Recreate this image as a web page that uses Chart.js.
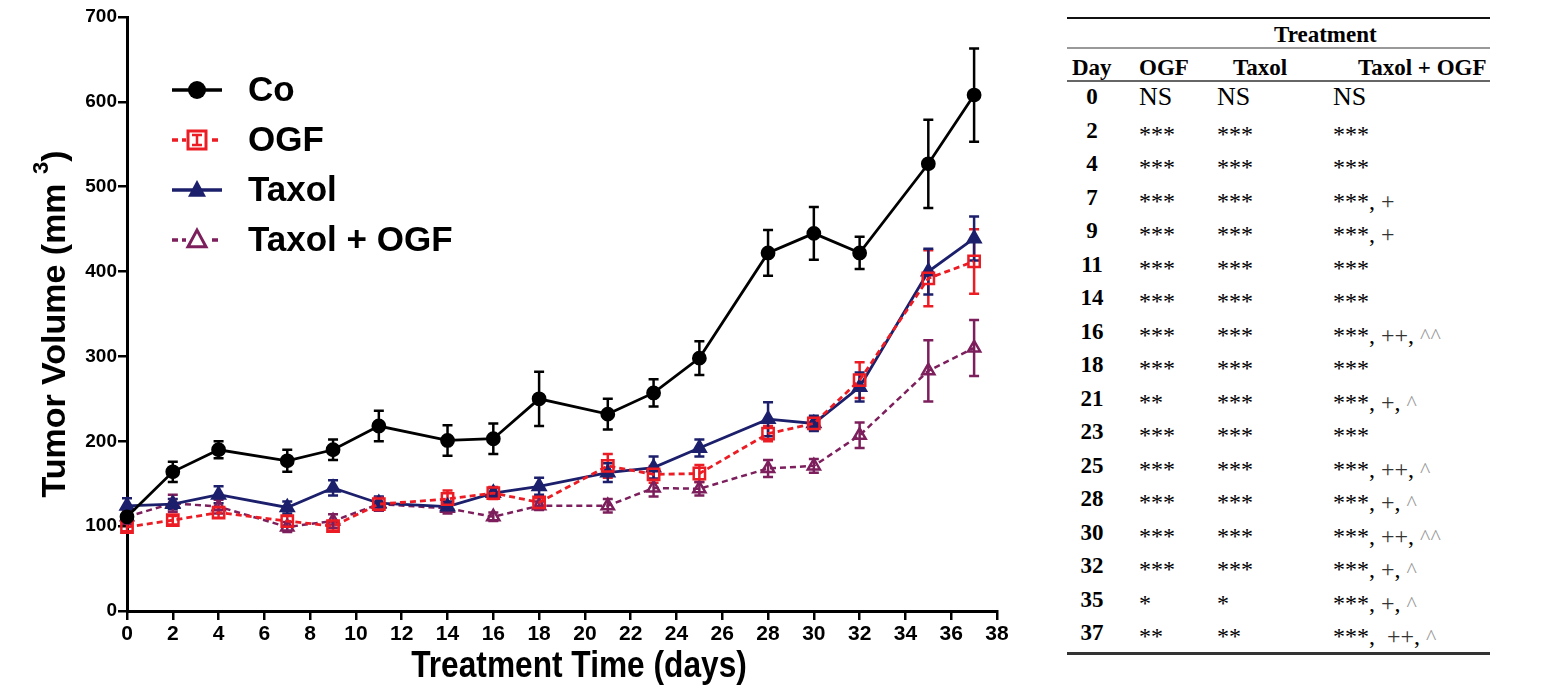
<!DOCTYPE html>
<html lang="en">
<head>
    <meta charset="UTF-8">
    <title>Tumor Volume</title>
    <script src="https://cdn.jsdelivr.net/npm/chart.js"></script>
    <style>
        body {
            margin: 0;
            background: #ffffff;
            width: 1559px;
            height: 700px;
            overflow: hidden;
            position: relative;
        }

        #chart-box {
            position: absolute;
            left: 0;
            top: 0;
            width: 1040px;
            height: 700px;
        }

        #sig-table {
            position: absolute;
            left: 1067px;
            top: 0;
            width: 423px;
            font-family: "Liberation Serif", "Times New Roman", serif;
            color: #000;
        }

        .rule {
            position: absolute;
            left: 0;
            width: 423px;
        }

        .cell {
            position: absolute;
            white-space: pre;
        }

        .row {
            position: absolute;
            left: 0;
            width: 423px;
            height: 33.5px;
        }

        .plus { color: #333; }
        .hat { color: #999; font-size: 22px; }
    </style>
</head>
<body>

<div id="chart-box">
    <canvas id="tumorChart" width="1040" height="700"></canvas>
</div>

<div id="sig-table"></div>

<script>
    // measured days
    const days = [0, 2, 4, 7, 9, 11, 14, 16, 18, 21, 23, 25, 28, 30, 32, 35, 37];

    // mean tumor volume (mm3) and error per group
    const coValues = [111, 164, 190, 177, 190, 218, 201, 203, 250, 232, 257, 298, 422, 445, 422, 527, 608];
    const coErrors = [8, 12, 10, 13, 12, 18, 18, 18, 32, 18, 16, 20, 27, 31, 19, 52, 55];

    const ogfValues = [99, 107, 116, 106, 100, 126, 132, 139, 128, 171, 161, 162, 209, 221, 272, 392, 412];
    const ogfErrors = [5, 5, 6, 6, 5, 8, 10, 7, 5, 14, 10, 10, 9, 8, 21, 33, 38];

    const taxolValues = [124, 126, 137, 122, 145, 127, 123, 139, 147, 163, 169, 192, 226, 221, 264, 400, 439];
    const taxolErrors = [9, 6, 10, 7, 9, 8, 6, 6, 10, 11, 13, 10, 20, 9, 17, 27, 26];

    const comboValues = [111, 127, 123, 99, 106, 126, 121, 111, 124, 124, 145, 144, 168, 171, 207, 283, 310];
    const comboErrors = [8, 10, 8, 6, 8, 8, 6, 5, 5, 8, 10, 8, 10, 8, 15, 36, 33];

    // significance table
    const sigDays = ['0', '2', '4', '7', '9', '11', '14', '16', '18', '21', '23', '25', '28', '30', '32', '35', '37'];
    const sigOgf = ['NS', '***', '***', '***', '***', '***', '***', '***', '***', '**', '***', '***', '***', '***', '***', '*', '**'];
    const sigTaxol = ['NS', '***', '***', '***', '***', '***', '***', '***', '***', '***', '***', '***', '***', '***', '***', '*', '**'];
    const sigCombo = ['NS', '***', '***', '***, +', '***, +', '***', '***', '***, ++, ^^', '***', '***, +, ^', '***',
        '***, ++, ^', '***, +, ^', '***, ++, ^^', '***, +, ^', '***, +, ^', '***,  ++, ^'];

    const RED = '#ec1c24';
    const NAVY = '#1c1f6b';
    const PURPLE = '#7c1f5c';
    const SANS = '"Liberation Sans", Arial, sans-serif';

    function toPoints(values) {
        return days.map((d, i) => ({ x: d, y: values[i] }));
    }

    // draws one marker shape (used by the legend)
    function drawMarker(c, style, x, y, r, color, filled) {
        c.beginPath();
        if (style === 'circle') {
            c.arc(x, y, r, 0, Math.PI * 2);
        } else if (style === 'rect') {
            c.rect(x - r, y - r, r * 2, r * 2);
        } else {
            c.moveTo(x, y - r * 1.1);
            c.lineTo(x + r, y + r * 0.75);
            c.lineTo(x - r, y + r * 0.75);
            c.closePath();
        }
        if (filled) {
            c.fillStyle = color;
            c.fill();
        } else {
            c.lineWidth = 3;
            c.strokeStyle = color;
            c.stroke();
        }
    }

    // error bars drawn under the markers
    const errorBars = {
        id: 'errorBars',
        beforeDatasetsDraw(chart) {
            const c = chart.ctx;
            const yScale = chart.scales.y;
            chart.data.datasets.forEach((ds, i) => {
                const meta = chart.getDatasetMeta(i);
                c.save();
                c.strokeStyle = ds.borderColor;
                c.lineWidth = 2.5;
                c.setLineDash([]);
                meta.data.forEach((pt, j) => {
                    const v = ds.data[j].y;
                    const e = ds.errors[j];
                    const top = yScale.getPixelForValue(v + e);
                    const bot = yScale.getPixelForValue(v - e);
                    c.beginPath();
                    c.moveTo(pt.x, top);
                    c.lineTo(pt.x, bot);
                    c.moveTo(pt.x - 5, top);
                    c.lineTo(pt.x + 5, top);
                    c.moveTo(pt.x - 5, bot);
                    c.lineTo(pt.x + 5, bot);
                    c.stroke();
                });
                c.restore();
            });
        }
    };

    // axis titles: y with a superscript, x in a condensed look
    const axisTitles = {
        id: 'axisTitles',
        afterDraw(chart) {
            const c = chart.ctx;
            const main = 'Tumor Volume (mm ';
            c.save();
            c.translate(56, 324);
            c.rotate(-Math.PI / 2);
            c.fillStyle = '#000';
            c.textBaseline = 'middle';
            c.font = 'bold 34px ' + SANS;
            const w1 = c.measureText(main).width;
            const w3 = c.measureText(')').width;
            c.font = 'bold 22px ' + SANS;
            const w2 = c.measureText('3').width;
            let x = -(w1 + w2 + w3) / 2;
            c.font = 'bold 34px ' + SANS;
            c.fillText(main, x, 0);
            x += w1;
            c.font = 'bold 22px ' + SANS;
            c.fillText('3', x, -14);
            x += w2;
            c.font = 'bold 34px ' + SANS;
            c.fillText(')', x, 0);
            c.restore();

            const xs = chart.scales.x;
            c.save();
            c.fillStyle = '#000';
            c.textAlign = 'center';
            c.textBaseline = 'middle';
            c.font = 'bold 36px ' + SANS;
            c.translate((xs.left + xs.right) / 2 + 17, 667);
            c.scale(0.88, 1);
            c.fillText('Treatment Time (days)', 0, 0);
            c.restore();
        }
    };

    // legend inside the plot
    const innerLegend = {
        id: 'innerLegend',
        afterDraw(chart) {
            const c = chart.ctx;
            c.save();
            chart.data.datasets.forEach((ds, i) => {
                const y = 90 + i * 50;
                c.strokeStyle = ds.borderColor;
                c.lineWidth = 3.5;
                c.setLineDash(ds.borderDash || []);
                c.beginPath();
                c.moveTo(172, y);
                c.lineTo(222, y);
                c.stroke();
                c.setLineDash([]);
                const filled = ds.pointBackgroundColor !== 'rgba(0,0,0,0)';
                if (!filled) {
                    c.fillStyle = '#fff';
                    c.fillRect(186, y - 11, 22, 22);
                }
                drawMarker(c, ds.pointStyle, 197, y, 9, ds.borderColor, filled);
                if (ds.pointStyle === 'rect') {
                    c.lineWidth = 2.5;
                    c.beginPath();
                    c.moveTo(197, y - 5); c.lineTo(197, y + 5);
                    c.moveTo(192, y - 5); c.lineTo(202, y - 5);
                    c.moveTo(192, y + 5); c.lineTo(202, y + 5);
                    c.stroke();
                }
                c.fillStyle = '#000';
                c.font = 'bold 35px ' + SANS;
                c.textBaseline = 'middle';
                c.fillText(ds.label, 248, y + 1);
            });
            c.restore();
        }
    };

    const axisGrid = {
        display: true,
        drawOnChartArea: false,
        drawTicks: true,
        tickLength: 9,
        color: '#000',
        lineWidth: 2.5
    };

    const ctx = document.getElementById('tumorChart').getContext('2d');
    const tumorChart = new Chart(ctx, {
        type: 'line',
        data: {
            datasets: [
                {
                    label: 'Co',
                    data: toPoints(coValues),
                    errors: coErrors,
                    borderColor: '#000',
                    backgroundColor: '#000',
                    pointBackgroundColor: '#000',
                    pointStyle: 'circle',
                    pointRadius: 6,
                    borderWidth: 2.8
                },
                {
                    label: 'OGF',
                    data: toPoints(ogfValues),
                    errors: ogfErrors,
                    borderColor: RED,
                    backgroundColor: RED,
                    borderDash: [6, 4],
                    pointBackgroundColor: 'rgba(0,0,0,0)',
                    pointBorderWidth: 2.5,
                    pointStyle: 'rect',
                    pointRadius: 8,
                    borderWidth: 2.8
                },
                {
                    label: 'Taxol',
                    data: toPoints(taxolValues),
                    errors: taxolErrors,
                    borderColor: NAVY,
                    backgroundColor: NAVY,
                    pointBackgroundColor: NAVY,
                    pointStyle: 'triangle',
                    pointRadius: 7,
                    borderWidth: 2.8
                },
                {
                    label: 'Taxol + OGF',
                    data: toPoints(comboValues),
                    errors: comboErrors,
                    borderColor: PURPLE,
                    backgroundColor: PURPLE,
                    borderDash: [6, 4],
                    pointBackgroundColor: 'rgba(0,0,0,0)',
                    pointBorderWidth: 2.5,
                    pointStyle: 'triangle',
                    pointRadius: 7,
                    borderWidth: 2.5
                }
            ]
        },
        options: {
            responsive: false,
            animation: false,
            clip: false,
            layout: { padding: { top: 17, right: 43, left: 0, bottom: 0 } },
            plugins: {
                legend: { display: false },
                tooltip: { enabled: false }
            },
            scales: {
                x: {
                    type: 'linear',
                    min: 0,
                    max: 38,
                    ticks: {
                        stepSize: 2,
                        color: '#000',
                        padding: 2,
                        maxRotation: 0,
                        font: { family: SANS, size: 21, weight: 'bold' }
                    },
                    grid: axisGrid,
                    border: { color: '#000', width: 3 },
                    title: { display: false },
                    afterFit(scale) { scale.height = 89; }
                },
                y: {
                    min: 0,
                    max: 700,
                    ticks: {
                        stepSize: 100,
                        color: '#000',
                        padding: 1,
                        font: { family: SANS, size: 19, weight: 'bold' }
                    },
                    grid: axisGrid,
                    border: { color: '#000', width: 3 },
                    afterFit(scale) { scale.width = 127; }
                }
            }
        },
        plugins: [errorBars, axisTitles, innerLegend]
    });

    // build the significance table
    const table = document.getElementById('sig-table');

    function addRule(top, height, color) {
        const d = document.createElement('div');
        d.className = 'rule';
        d.style.top = top + 'px';
        d.style.height = height + 'px';
        d.style.background = color;
        table.appendChild(d);
    }

    function addCell(parent, html, left, top, css) {
        const s = document.createElement('span');
        s.className = 'cell';
        s.innerHTML = html;
        s.style.left = left + 'px';
        s.style.top = top + 'px';
        Object.assign(s.style, css || {});
        parent.appendChild(s);
        return s;
    }

    function markSig(text) {
        return text.replace(/(\++)/g, '<span class="plus">$1</span>')
                   .replace(/(\^+)/g, '<span class="hat">$1</span>');
    }

    addRule(17, 2, '#111');
    addRule(47, 2, '#999');
    addRule(80, 1.5, '#666');
    addRule(652, 2.5, '#333');

    const headBold = { fontWeight: 'bold', fontSize: '23px' };
    addCell(table, 'Treatment', 207, 22, headBold);
    addCell(table, 'Day', 5, 55, headBold);
    addCell(table, 'OGF', 72, 55, headBold);
    addCell(table, 'Taxol', 166, 55, headBold);
    addCell(table, 'Taxol + OGF', 291, 55, headBold);

    sigDays.forEach((day, i) => {
        const row = document.createElement('div');
        row.className = 'row';
        row.style.top = (82 + i * 33.5) + 'px';
        table.appendChild(row);
        addCell(row, day, 0, 2, { fontWeight: 'bold', fontSize: '23px', width: '50px', textAlign: 'center' });
        const sigSize = sigOgf[i] === 'NS' ? '26px' : '24px';
        const sigTop = sigOgf[i] === 'NS' ? 0 : 5;
        addCell(row, sigOgf[i], 72, sigTop, { fontSize: sigSize });
        addCell(row, sigTaxol[i], 150, sigTop, { fontSize: sigSize });
        addCell(row, markSig(sigCombo[i]), 266, sigTop, { fontSize: sigSize });
    });
</script>

</body>
</html>
